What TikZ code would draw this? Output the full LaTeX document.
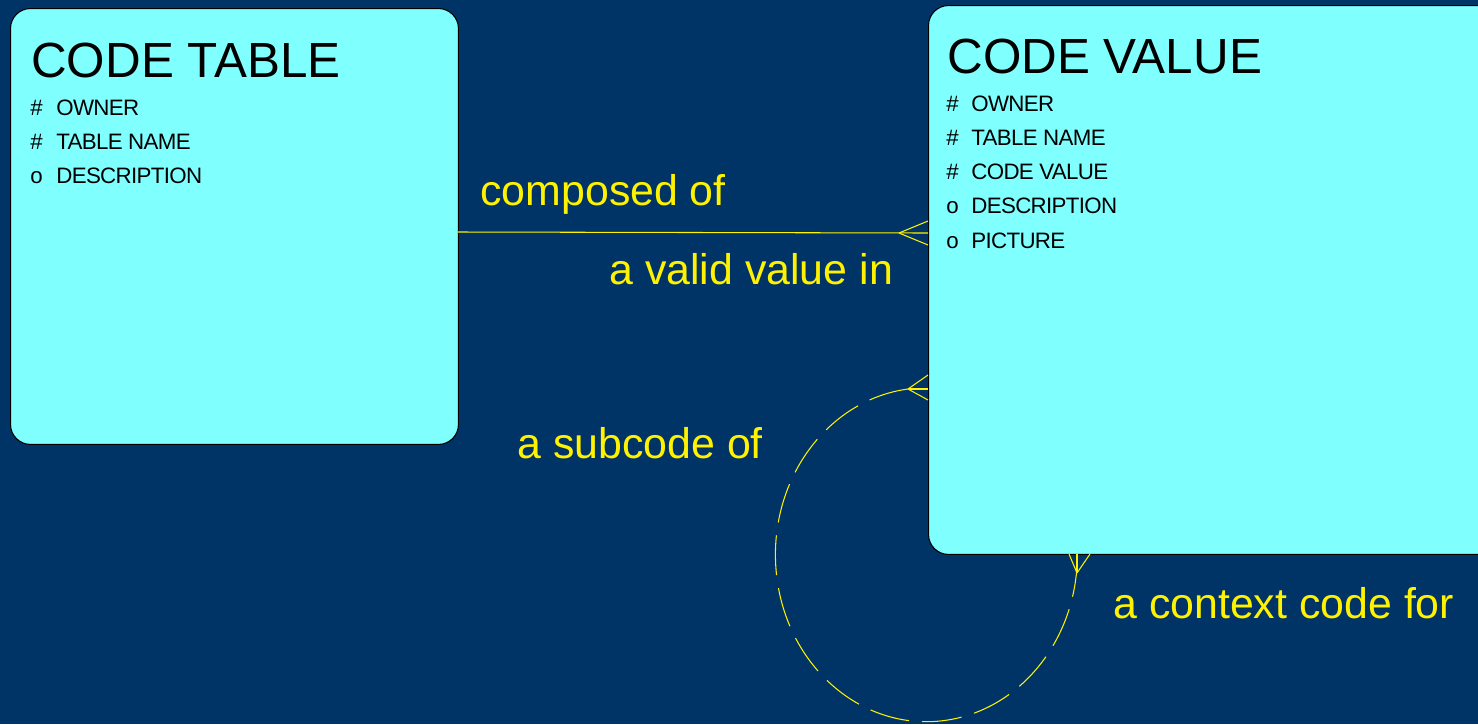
\documentclass[tikz,border=0pt]{standalone}
\usepackage{fontspec}
\setmainfont{Liberation Sans}
\newfontfamily\attrfont[LetterSpace=-3]{Liberation Sans}
\usetikzlibrary{positioning}
\definecolor{navy}{RGB}{0,51,102}
\definecolor{entcyan}{RGB}{128,255,255}

\begin{document}
\begin{tikzpicture}[x=0.02cm,y=-0.02cm,entity/.style={draw=black,line width=0.6pt,fill=entcyan,rounded corners=0.4cm,anchor=north west,inner sep=0pt},enttitle/.style={anchor=base west,inner sep=0pt,font=\fontsize{28.1}{30}\selectfont},attr/.style={anchor=base west,inner sep=0pt,font=\attrfont\fontsize{12.7}{15}\selectfont},rel/.style={draw=yellow,line width=0.6pt},optrel/.style={rel,dash pattern=on 0.8cm off 0.26cm},reltext/.style={anchor=base west,inner sep=0pt,text=yellow,font=\fontsize{24.4}{28}\selectfont}]
		\fill[navy] (0,0) rectangle (1478,724);
		\useasboundingbox (0,0) rectangle (1478,724);

		% pig's ear ends
		\coordinate (subA) at (908,389);
		\coordinate (subB) at (1077,573);
		\draw[optrel] (subA) arc[start angle=97,end angle=354,x radius=3.02cm,y radius=3.34cm];

		\node[entity,minimum width=8.96cm,minimum height=8.72cm]	(table)	at (10,8)	{};
		\node[entity,minimum width=12cm,minimum height=10.98cm]		(value)	at (928,5)	{};

		\node[enttitle]	(tabletitle)	at (31,77)	{CODE TABLE};
		\node[enttitle]	(valuetitle)	at (947,73)	{CODE VALUE};

		\foreach \mk/\nm [count=\i] in {\#/OWNER,\#/TABLE NAME,o/DESCRIPTION} {
			\node[attr]	(tablemk\i)	at (30,81+34*\i)	{\mk};
			\node[attr]	(tableattr\i)	at (56,81+34*\i)	{\nm};
		}
		\foreach \mk/\nm [count=\i] in {\#/OWNER,\#/TABLE NAME,\#/CODE VALUE,o/DESCRIPTION,o/PICTURE} {
			\node[attr]	(valuemk\i)	at (946,77+34.2*\i)	{\mk};
			\node[attr]	(valueattr\i)	at (971,77+34.2*\i)	{\nm};
		}

		% composed of / a valid value in
		\coordinate (tblR) at (458,232);
		\coordinate (valL) at (928,233);
		\coordinate (footA) at (899,233);
		\draw[rel] (tblR) -- (valL);
		\draw[rel] (footA) -- (928,221);
		\draw[rel] (footA) -- (928,245);

		% crow's feet of the pig's ear
		\draw[rel] (subA) -- (928,375);
		\draw[rel] (subA) -- (928,389);
		\draw[rel] (subA) -- (928,400);
		\draw[rel] (subB) -- (1069,554);
		\draw[rel] (subB) -- (1077,554);
		\draw[rel] (subB) -- (1090,554);

		\node[reltext]	(composed)	at (480,205)	{composed of};
		\node[reltext]	(validin)	at (609,284)	{a valid value in};
		\node[reltext]	(subcode)	at (517,458)	{a subcode of};
		\node[reltext]	(context)	at (1113,618)	{a context code for};
	\end{tikzpicture}
\end{document}
